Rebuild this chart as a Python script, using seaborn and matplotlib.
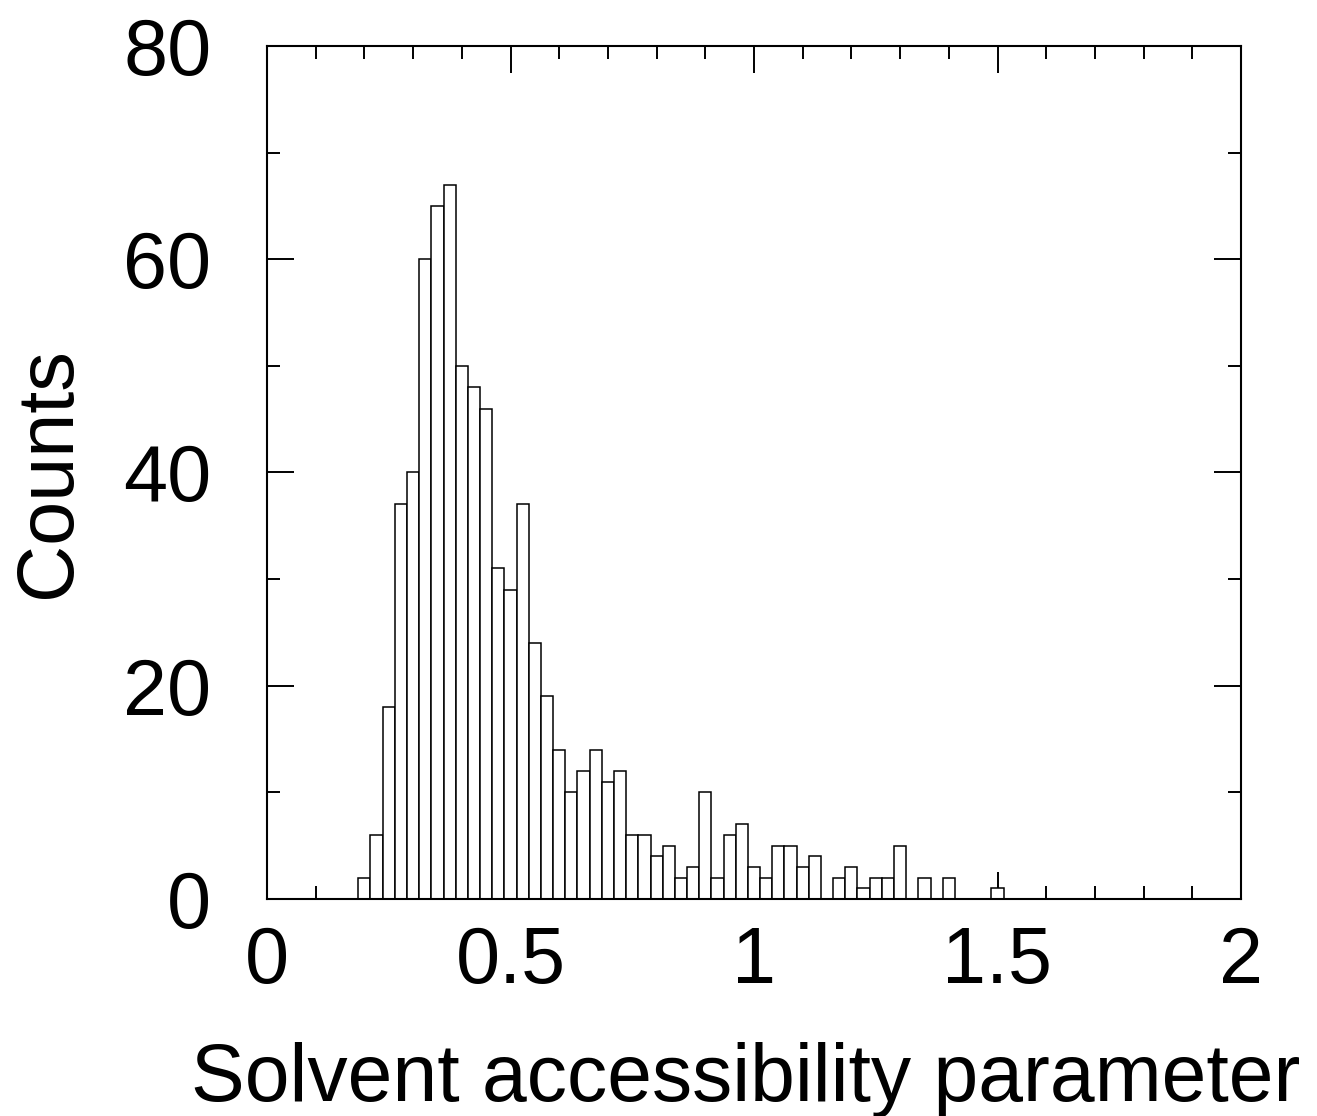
import matplotlib
matplotlib.use("Agg")
import matplotlib.pyplot as plt
import seaborn as sns
import numpy as np
import pandas as pd
from matplotlib.ticker import MultipleLocator, FixedLocator, FixedFormatter

# Data: histogram bin centres (width 0.025) and counts
bin_width = 0.025
bin_centers = [round(0.2 + i * bin_width, 4) for i in range(53)]
counts = [2, 6, 18, 37, 40, 60, 65, 67, 50, 48,
          46, 31, 29, 37, 24, 19, 14, 10, 12, 14,
          11, 12, 6, 6, 4, 5, 2, 3, 10, 2,
          6, 7, 3, 2, 5, 5, 3, 4, 0, 2,
          3, 1, 2, 2, 5, 0, 2, 0, 2, 0,
          0, 0, 1]
x_ticks = [0, 0.5, 1, 1.5, 2]
x_tick_labels = ["0", "0.5", "1", "1.5", "2"]
y_ticks = [0, 20, 40, 60, 80]
y_tick_labels = ["0", "20", "40", "60", "80"]

df = pd.DataFrame({"center": bin_centers, "count": counts})

sns.set_theme(style="white")
plt.rcParams["font.family"] = ["Liberation Sans", "DejaVu Sans"]

fig = plt.figure(figsize=(13.17, 11.16), dpi=100)
ax = fig.add_axes([267 / 1317, 1 - 899 / 1116, (1241 - 267) / 1317, (899 - 46) / 1116])

edges = list(np.arange(len(bin_centers) + 1) * bin_width + (bin_centers[0] - bin_width / 2))
sns.histplot(data=df, x="center", weights="count", bins=edges, ax=ax,
             color="white", edgecolor="black", linewidth=1.1, alpha=1.0)

ax.set_xlim(0, 2)
ax.set_ylim(0, 80)
ax.xaxis.set_major_locator(FixedLocator(x_ticks))
ax.xaxis.set_major_formatter(FixedFormatter(x_tick_labels))
ax.xaxis.set_minor_locator(MultipleLocator(0.1))
ax.yaxis.set_major_locator(FixedLocator(y_ticks))
ax.yaxis.set_major_formatter(FixedFormatter(y_tick_labels))
ax.yaxis.set_minor_locator(MultipleLocator(10))

ax.tick_params(which="both", direction="in", top=True, right=True,
               bottom=True, left=True, color="black", width=1.4)
ax.tick_params(which="major", length=19.5, labelsize=57, pad=19)
ax.tick_params(axis="y", which="major", pad=40)
ax.tick_params(which="minor", length=9.5)
for lab in ax.get_xticklabels() + ax.get_yticklabels():
    lab.set_color("black")
for s in ax.spines.values():
    s.set_visible(True)
    s.set_color("black")
    s.set_linewidth(1.5)

ax.set_xlabel("Solvent accessibility parameter", fontsize=58, color="black")
ax.xaxis.set_label_coords((746 - 267) / 974, -(1101 - 899) / 853, transform=ax.transAxes)
ax.xaxis.label.set_va("baseline")
ax.set_ylabel("Counts", fontsize=57, color="black", labelpad=26)
ax.grid(False)

fig.savefig("out.png", dpi=100, facecolor="white")
